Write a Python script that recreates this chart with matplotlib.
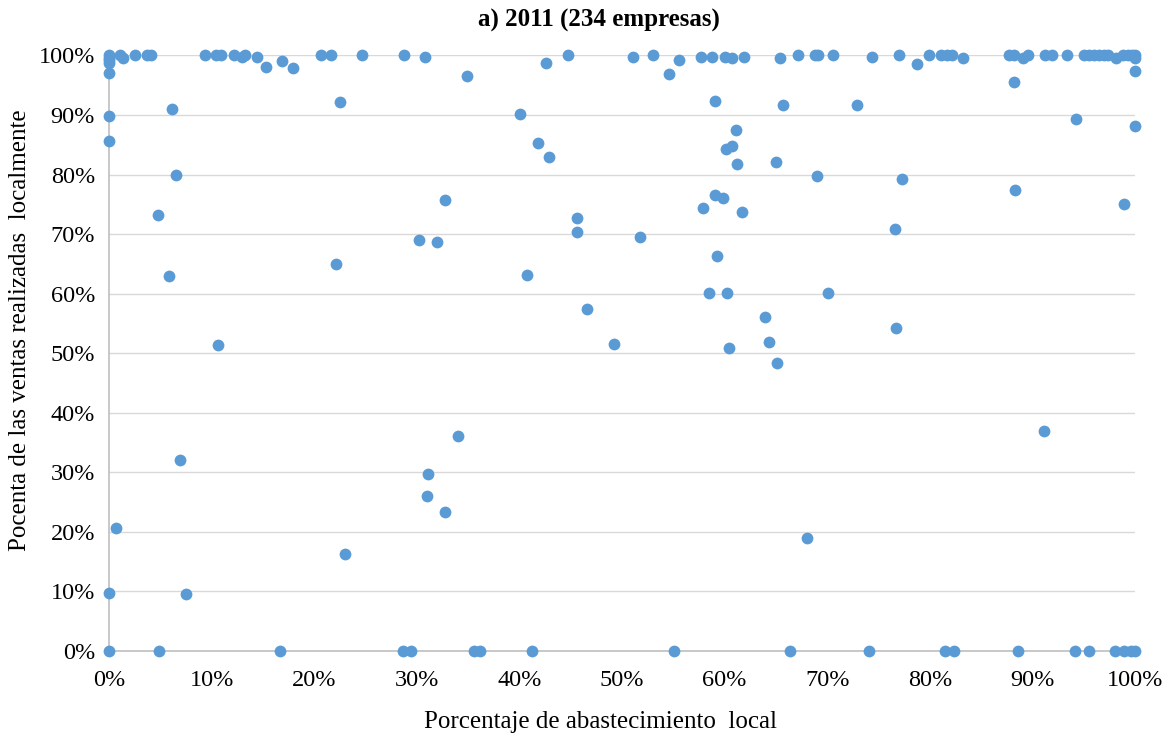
import matplotlib
matplotlib.use("Agg")
import matplotlib.pyplot as plt
from matplotlib import ticker

# local sourcing share (%) and local sales share (%) per firm, 2011
abastecimiento = [
    0, 0, 0, 0, 0, 0, 0, 0, 0, 0.65,
    1.1, 1.4, 2.5, 3.7, 4.1, 9.4, 10.4, 10.9, 12.2, 13.0,
    13.3, 14.4, 15.3, 16.9, 17.9, 20.7, 21.6, 24.7, 28.8, 30.8,
    34.9, 6.1, 22.5, 6.5, 32.8, 4.8,
    42.6, 44.7, 51.1, 53.0, 55.6, 54.6, 57.7, 58.8, 60.0, 60.7,
    61.9, 65.4, 67.2, 68.8, 69.1, 70.6, 74.4,
    40.1, 41.8, 42.9, 59.1, 65.7, 72.9, 61.1, 60.1, 60.7, 61.2,
    65.0, 69.0, 59.1, 59.8, 57.9, 61.7, 45.6, 45.6,
    77.0, 78.8, 79.9, 81.1, 81.7, 82.2, 83.2, 87.7, 88.2, 89.1,
    89.6, 91.2, 91.9, 93.4, 95.0, 95.5, 96.0, 96.5, 97.0, 97.4,
    98.2, 98.8, 99.3, 99.7, 100, 100, 100, 88.2, 94.3, 100,
    77.3, 88.3, 98.9, 76.6,
    5.85, 22.1, 10.6, 6.9, 23.0, 7.5,
    30.2, 32.0, 40.7, 46.6, 49.2, 34.0, 31.1, 31.0, 32.8,
    51.8, 59.3, 58.5, 60.2, 70.1, 63.9, 64.3, 60.4, 65.1, 68.0,
    76.7, 91.1,
    4.9, 16.7, 28.7, 29.4, 35.6, 36.2, 41.2, 55.1, 66.4, 74.1,
    81.5, 82.4, 88.6, 94.2, 95.5, 98.1, 98.9, 99.6, 100,
]
ventas_locales = [
    100, 99.6, 99.2, 98.8, 97.1, 89.8, 85.7, 9.7, 0, 20.6,
    100, 99.5, 100, 100, 100, 100, 100, 100, 100, 99.8,
    100, 99.7, 98.1, 99.0, 97.9, 100, 100, 100, 100, 99.7,
    96.6, 91.0, 92.1, 79.9, 75.8, 73.2,
    98.8, 100, 99.7, 100, 99.3, 96.9, 99.7, 99.7, 99.7, 99.5,
    99.7, 99.5, 100, 100, 100, 100, 99.7,
    90.1, 85.3, 82.9, 92.3, 91.6, 91.6, 87.4, 84.3, 84.8, 81.8,
    82.1, 79.7, 76.6, 76.1, 74.4, 73.7, 72.7, 70.3,
    100, 98.6, 100, 100, 100, 100, 99.5, 100, 100, 99.5,
    100, 100, 100, 100, 100, 100, 100, 100, 100, 100,
    99.5, 100, 100, 100, 100, 99.5, 97.4, 95.6, 89.4, 88.1,
    79.2, 77.4, 75.1, 70.8,
    63.0, 64.9, 51.3, 32.0, 16.3, 9.5,
    69.0, 68.6, 63.2, 57.4, 51.6, 36.1, 29.8, 26.0, 23.3,
    69.5, 66.4, 60.1, 60.1, 60.1, 56.0, 51.8, 50.8, 48.3, 18.9,
    54.3, 37.0,
    0, 0, 0, 0, 0, 0, 0, 0, 0, 0,
    0, 0, 0, 0, 0, 0, 0, 0, 0,
]

titulo = "a) 2011 (234 empresas)"
etiqueta_x = "Porcentaje de abastecimiento  local"
etiqueta_y = "Pocenta de las ventas realizadas  localmente"
ticks = list(range(0, 101, 10))

plt.rcParams["font.family"] = ["Liberation Serif", "DejaVu Serif"]

fig = plt.figure(figsize=(11.68, 7.36), dpi=100)
ax = fig.add_axes([0.0933, 0.1155, 0.8784, 0.8092])

ax.scatter(abastecimiento, ventas_locales, s=72, color="#5B9BD5",
           linewidths=0, zorder=3, clip_on=False)

ax.set_xlim(0, 100)
ax.set_ylim(0, 100)
ax.set_xticks(ticks)
ax.set_yticks(ticks)
ax.xaxis.set_major_formatter(ticker.PercentFormatter(xmax=100, decimals=0))
ax.yaxis.set_major_formatter(ticker.PercentFormatter(xmax=100, decimals=0))
ax.tick_params(axis="x", length=0, pad=14, labelsize=17.5)
ax.tick_params(axis="y", length=0, pad=10, labelsize=17.5)

ax.grid(axis="y", color="#D9D9D9", linewidth=1)
ax.set_axisbelow(True)
for side in ["top", "right"]:
    ax.spines[side].set_visible(False)
for side in ["left", "bottom"]:
    ax.spines[side].set_color("#BFBFBF")
    ax.spines[side].set_linewidth(1.2)

# title and axis labels sit a little off-centre
ax.text(0.4776, 1.0587, titulo, transform=ax.transAxes, fontsize=18,
        fontweight="bold", ha="center", va="center")
ax.set_xlabel(etiqueta_x, fontsize=18)
ax.set_ylabel(etiqueta_y, fontsize=18)
ax.xaxis.set_label_coords(0.4795, -0.119)
ax.xaxis.label.set_va("center")
ax.yaxis.set_label_coords(-0.0867, 0.539)
ax.yaxis.label.set_va("center")

fig.savefig("out.png", dpi=100)
